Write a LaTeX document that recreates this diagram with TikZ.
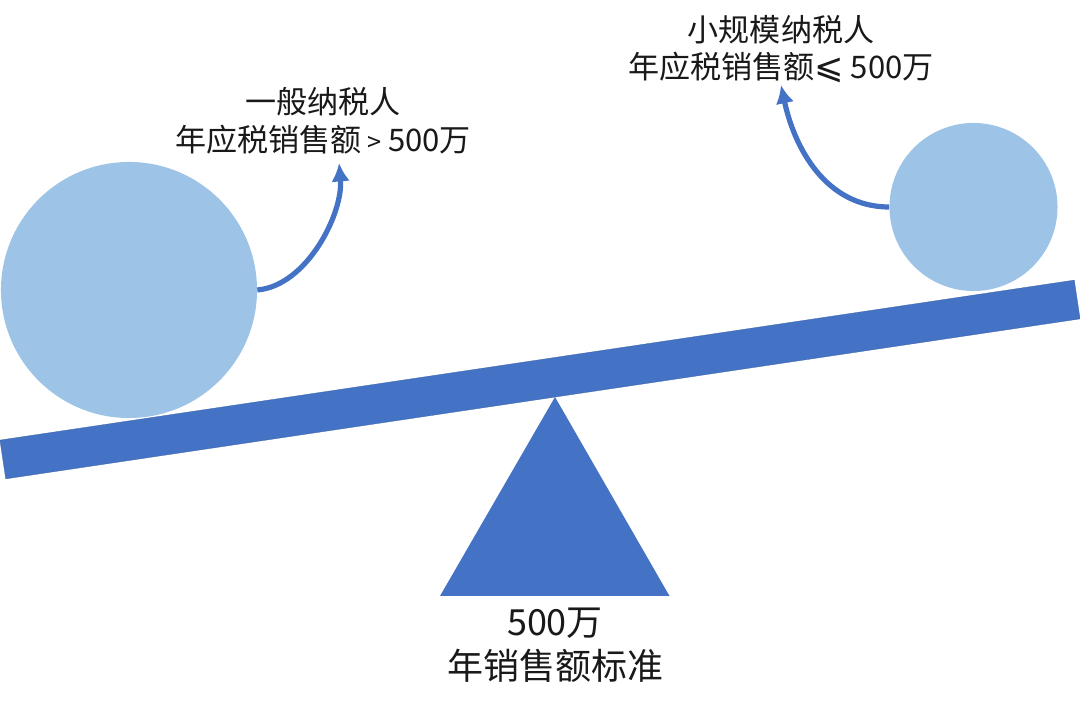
\documentclass[tikz,border=0pt]{standalone}
\usepackage{fontspec}
\usetikzlibrary{arrows.meta}
\setmainfont{Noto Sans CJK SC}
\newfontfamily\symfont{DejaVu Sans}
\definecolor{beamblue}{RGB}{68,114,196}
\definecolor{ballblue}{RGB}{157,195,230}
\tikzset{
  ball/.style={circle,fill=ballblue,inner sep=0pt},
  curve/.style={draw=beamblue,line width=1.3mm,-{Latex[length=4.6mm,width=4.6mm]}},
  caption/.style={align=center,text=black!90,inner sep=0pt}
}

\begin{document}
\begin{tikzpicture}[x=0.025cm,y=0.025cm]
    \useasboundingbox (0,0) rectangle (1080,711);
    \node[ball,minimum size=6.4cm] (bigball) at (129,421) {};
    \node[ball,minimum size=4.2cm] (smallball) at (973.5,504) {};
    \node[fill=beamblue,draw=beamblue!85!black,line width=0.2pt,inner sep=0pt,minimum width=27.15cm,minimum height=0.98cm,rotate=8.47] (beam) at (540,331.5) {};
    \fill[beamblue] (555,314) -- (669.5,115) -- (440,115) -- cycle;
    \node[caption,font=\fontsize{22.1}{26}\selectfont] (small) at (781,662) {小规模纳税人\\年应税销售额{\symfont\fontsize{25}{26}\selectfont ⩽}\hspace{0.22em}500万};
    \node[caption,font=\fontsize{22.1}{27}\selectfont] (general) at (323,590) {一般纳税人\\年应税销售额\hspace{0.2em}{\fontsize{18}{18}\selectfont >}\hspace{0.2em}500万};
    \node[caption,font=\fontsize{25.6}{31}\selectfont] (standard) at (555,66) {500万\\年销售额标准};
    \coordinate (generalend) at (339,548);
    \coordinate (smallend) at (781,626);
    \draw[curve] (bigball.east) to[out=5,in=-85,looseness=0.85] (generalend);
    \draw[curve] (smallball.west) to[out=180,in=-78] (smallend);
\end{tikzpicture}
\end{document}
